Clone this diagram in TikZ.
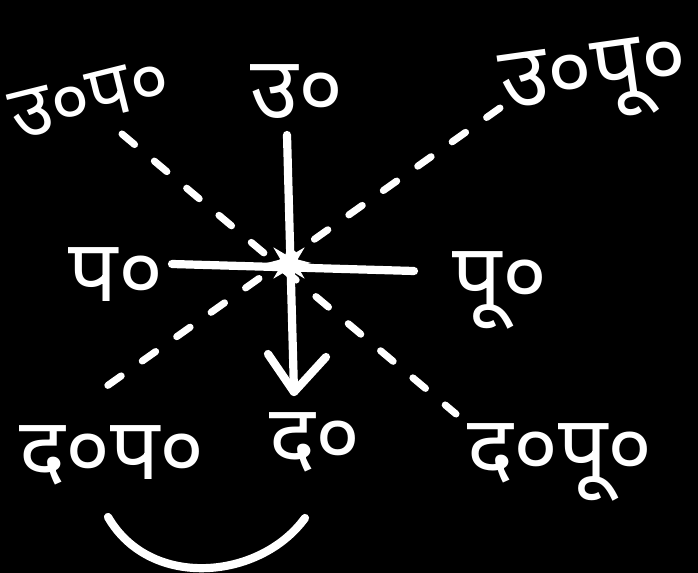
\documentclass[tikz,border=0pt]{standalone}
\usepackage{fontspec}
\newfontfamily\devfont[Script=Devanagari]{Noto Sans}
\usetikzlibrary{positioning,arrows.meta,shapes.geometric}
\tikzset{
  chalk/.style   ={white, line width=7pt, line cap=round, line join=round},
  ray/.style     ={white, line width=6pt, line cap=round, dash pattern=on 14pt off 22pt},
  dirlabel/.style={text=white, inner sep=0pt,
                   font=\devfont\bfseries\fontsize{74}{78}\selectfont},
  hub/.style     ={star, star points=8, star point ratio=2.4, fill=white,
                   minimum size=38pt, inner sep=0pt},
}

\begin{document}
\begin{tikzpicture}[x=0.03cm, y=-0.03cm]
  \fill[black] (0,0) rectangle (698,573);
  \useasboundingbox (0,0) rectangle (698,573);
  % direction labels
  \node[dirlabel, rotate=14, font=\devfont\bfseries\fontsize{64}{68}\selectfont]
                             (nw) at (90,98)   {उ०प०};
  \node[dirlabel]            (n)  at (297,92)  {उ०};
  \node[dirlabel, rotate=8]  (ne) at (595,82)  {उ०पू०};
  \node[dirlabel]            (w)  at (116,275) {प०};
  \node[dirlabel]            (e)  at (500,290) {पू०};
  \node[dirlabel]            (sw) at (112,455) {द०प०};
  \node[dirlabel]            (s)  at (315,442) {द०};
  \node[dirlabel]            (se) at (560,462) {द०पू०};
  % line ends
  \coordinate (ntop)  at (287,135);
  \coordinate (tip)   at (294,392);
  \coordinate (armL)  at (268,354);
  \coordinate (armR)  at (326,357);
  \coordinate (wend)  at (172,264);
  \coordinate (eend)  at (414,271);
  \coordinate (nwend) at (122,134);
  \coordinate (seend) at (456,414);
  \coordinate (neend) at (500,108);
  \coordinate (swend) at (90,398);
  % diagonals
  \draw[ray] (nwend) -- (seend);
  \draw[ray] (neend) -- (swend);
  % cross and arrow
  \draw[chalk] (wend) -- (eend);
  \draw[chalk] (ntop) -- (tip);
  \draw[chalk] (armL) -- (tip) -- (armR);
  \node[hub] (hub) at (289,263) {};
  % smile
  \draw[chalk] (108,517) .. controls (150,590) and (260,580) .. (305,518);
\end{tikzpicture}
\end{document}
